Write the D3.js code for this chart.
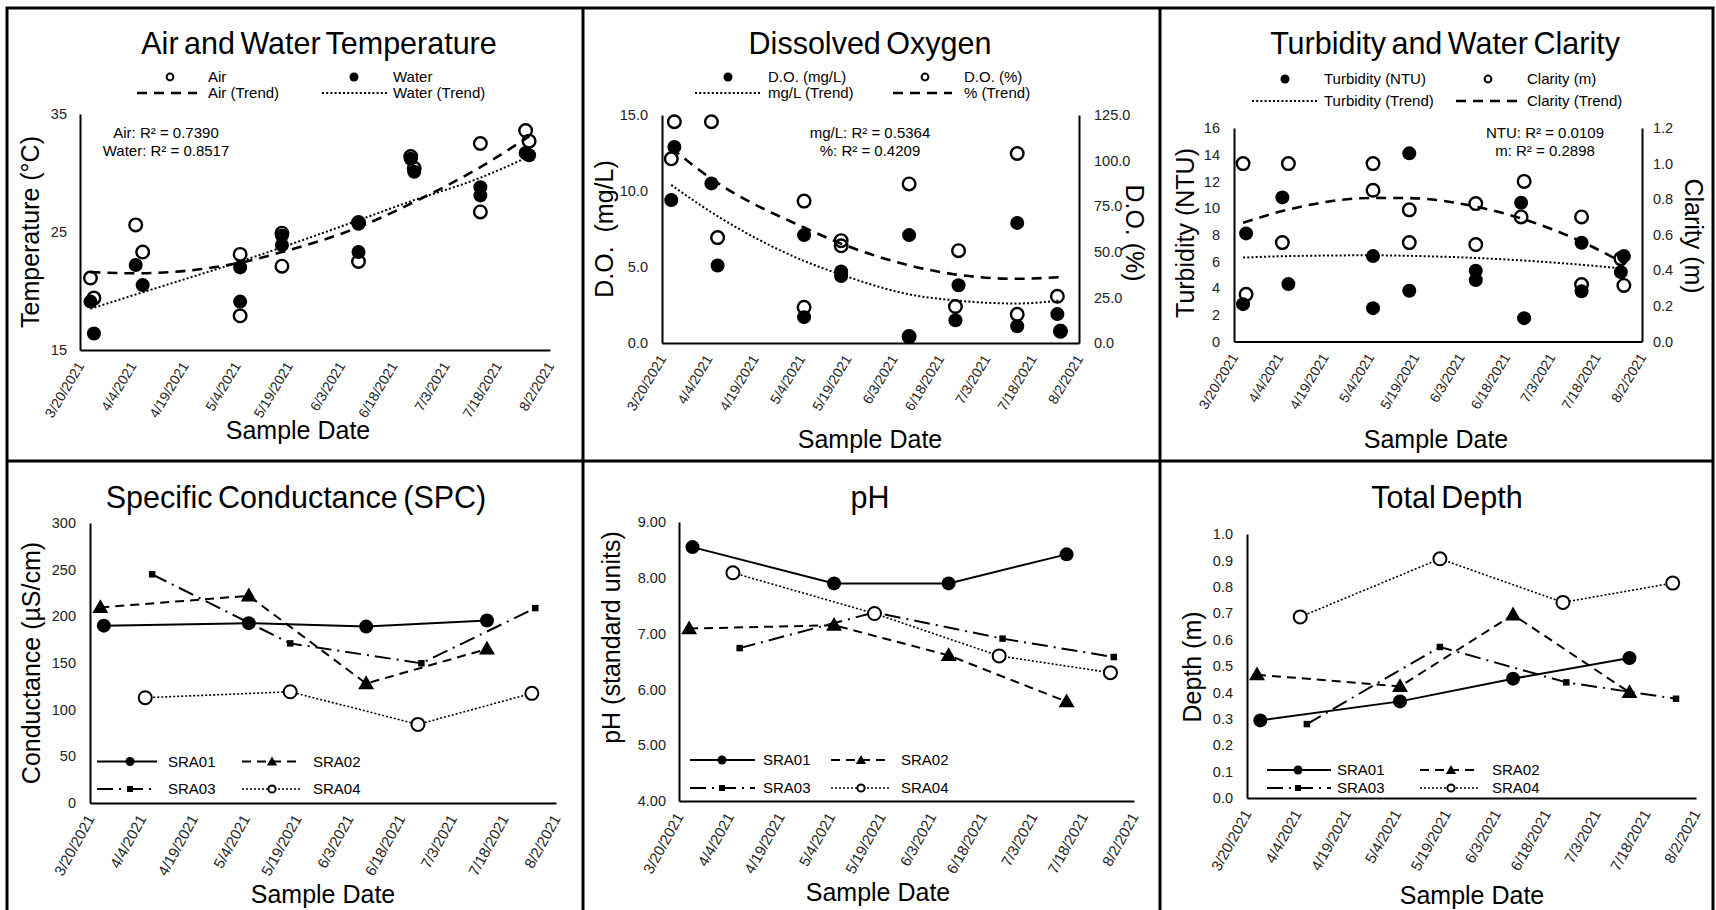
<!DOCTYPE html>
<html>
<head>
<meta charset="utf-8">
<script src="https://cdn.jsdelivr.net/npm/d3@7"></script>
<style>
  body { margin: 0; background: #fff; }
</style>
</head>
<body>
<svg id="chart" width="1716" height="910"></svg>
<script>
// x axis ticks (every 15 days)
const tickDates = ["2021-03-20", "2021-04-04", "2021-04-19", "2021-05-04", "2021-05-19",
  "2021-06-03", "2021-06-18", "2021-07-03", "2021-07-18", "2021-08-02"];

// top row: one value per site visit
const scatterDates = ["2021-03-23", "2021-03-24", "2021-04-05", "2021-04-07", "2021-05-05", "2021-05-05",
  "2021-05-17", "2021-05-17", "2021-06-08", "2021-06-08", "2021-06-23", "2021-06-24",
  "2021-07-13", "2021-07-13", "2021-07-26", "2021-07-27"];
const airTemp = [21.1, 19.4, 25.6, 23.3, 23.1, 17.9, 22.1, 24.9, 22.5, 25.8, 31.4, 30.4, 32.5, 26.7, 33.6, 32.7];
const waterTemp = [19.1, 16.4, 22.2, 20.5, 22.0, 19.1, 24.7, 23.9, 25.7, 23.3, 31.2, 30.1, 28.8, 28.1, 31.7, 31.5];
const doMgL = [9.4, 12.9, 10.5, 5.1, 7.1, 1.7, 4.7, 4.4, 7.1, 0.4, 1.5, 3.8, 7.9, 1.1, 1.9, 0.8];
const doPct = [101.0, 121.3, 121.3, 57.8, 77.8, 19.6, 56.1, 53.3, 87.2, 3.5, 20.0, 50.6, 103.9, 15.7, 25.6, 6.5];
const turbidity = [2.8, 8.1, 10.8, 4.3, 6.4, 2.5, 14.1, 3.8, 5.3, 4.6, 10.4, 1.75, 7.4, 3.76, 5.2, 6.4];
const clarity = [1.0, 0.265, 0.556, 1.0, 1.0, 0.85, 0.74, 0.556, 0.775, 0.545, 0.70, 0.90, 0.70, 0.32, 0.466, 0.315];

// trend lines
const trendDates = ["2021-03-23", "2021-04-05", "2021-05-05", "2021-05-17", "2021-06-08", "2021-06-23", "2021-07-13", "2021-07-27"];
const airTrend = [21.6, 21.5, 22.4, 23.3, 25.4, 27.4, 30.5, 33.1];
const waterTrend = [18.5, 19.7, 22.5, 23.7, 26.0, 27.6, 29.6, 31.4];
const doMgLTrend = [10.4, 8.6, 5.4, 4.5, 3.2, 2.8, 2.6, 2.8];
const doPctTrend = [107.0, 90.0, 63.3, 54.5, 42.6, 37.6, 35.2, 36.1];
const turbTrend = [6.29, 6.39, 6.46, 6.42, 6.26, 6.08, 5.75, 5.46];
const clarityTrend = [0.667, 0.733, 0.807, 0.806, 0.758, 0.692, 0.561, 0.44];

// bottom row: per site
const siteNames = ["SRA01", "SRA02", "SRA03", "SRA04"];
const datesSRA01 = ["2021-03-24", "2021-05-05", "2021-06-08", "2021-07-13"];
const datesSRA02 = ["2021-03-23", "2021-05-05", "2021-06-08", "2021-07-13"];
const datesSRA03 = ["2021-04-07", "2021-05-17", "2021-06-24", "2021-07-27"];
const datesSRA04 = ["2021-04-05", "2021-05-17", "2021-06-23", "2021-07-26"];

const spcSRA01 = [190, 192.7, 189, 195.5];
const spcSRA02 = [209.5, 222, 128, 165];
const spcSRA03 = [245, 171, 149.7, 208.8];
const spcSRA04 = [112.8, 119.2, 84.2, 117.5];

const phSRA01 = [8.55, 7.90, 7.90, 8.42];
const phSRA02 = [7.09, 7.15, 6.61, 5.78];
const phSRA03 = [6.74, 7.38, 6.91, 6.58];
const phSRA04 = [8.09, 7.36, 6.60, 6.30];

const depthSRA01 = [0.294, 0.366, 0.452, 0.530];
const depthSRA02 = [0.467, 0.423, 0.694, 0.400];
const depthSRA03 = [0.280, 0.572, 0.438, 0.376];
const depthSRA04 = [0.686, 0.906, 0.741, 0.814];

const FONT = "'Liberation Sans', Arial, Helvetica, sans-serif";
const svg = d3.select("#chart");
const parse = d3.utcParse("%Y-%m-%d");
const fmtTick = d3.utcFormat("%-m/%-d/%Y");

// frame and panel dividers
svg.append("rect").attr("x", 7).attr("y", 8).attr("width", 1706).attr("height", 960)
  .attr("fill", "none").attr("stroke", "#000").attr("stroke-width", 3);
[583, 1160].forEach(x => svg.append("line").attr("x1", x).attr("x2", x).attr("y1", 8).attr("y2", 910)
  .attr("stroke", "#000").attr("stroke-width", 3));
svg.append("line").attr("x1", 7).attr("x2", 1713).attr("y1", 461).attr("y2", 461)
  .attr("stroke", "#000").attr("stroke-width", 3);

function text(x, y, str, size, anchor = "middle", rotate = 0) {
  return svg.append("text")
    .attr("transform", `translate(${x},${y}) rotate(${rotate})`)
    .attr("text-anchor", anchor)
    .attr("font-family", FONT)
    .attr("font-size", size)
    .attr("fill", "#000")
    .text(str);
}

function title(x, y, str) {
  text(x, y, str, 30.5).attr("word-spacing", -3);
}

function dateScale(x0, x1) {
  return d3.scaleUtc()
    .domain([parse(tickDates[0]), parse(tickDates[tickDates.length - 1])])
    .range([x0, x1]);
}

function drawXAxis(x, yPos, size, angle) {
  const g = svg.append("g").attr("transform", `translate(0,${yPos})`)
    .call(d3.axisBottom(x).tickValues(tickDates.map(parse)).tickFormat(fmtTick).tickSize(0).tickSizeOuter(0));
  g.select(".domain").attr("stroke", "#000").attr("stroke-width", 2);
  g.selectAll(".tick text")
    .attr("font-size", size).attr("font-family", FONT).attr("fill", "#222")
    .attr("text-anchor", "end").attr("x", 0).attr("y", 0).attr("dy", "0.35em")
    .attr("transform", `translate(0,13) rotate(${angle})`);
}

function drawYAxis(y, xPos, ticks, fmt, pad, right = false) {
  const axis = (right ? d3.axisRight(y) : d3.axisLeft(y))
    .tickValues(ticks).tickFormat(fmt).tickSize(0).tickSizeOuter(0).tickPadding(pad);
  const g = svg.append("g").attr("transform", `translate(${xPos},0)`).call(axis);
  g.select(".domain").attr("stroke", "#000").attr("stroke-width", 2);
  g.selectAll(".tick text").attr("font-size", 14.5).attr("font-family", FONT).attr("fill", "#222");
}

function scatter(x, y, vals, filled) {
  const pts = scatterDates.map((d, i) => ({ date: parse(d), v: vals[i] }));
  svg.append("g").selectAll("circle").data(pts).join("circle")
    .attr("cx", d => x(d.date)).attr("cy", d => y(d.v))
    .attr("r", filled ? 7 : 6.3)
    .attr("fill", filled ? "#000" : "none")
    .attr("stroke", "#000").attr("stroke-width", filled ? 0 : 2.4);
}

function trend(x, y, vals, dash, width) {
  const pts = trendDates.map((d, i) => ({ date: parse(d), v: vals[i] }));
  svg.append("path").datum(pts)
    .attr("d", d3.line().x(d => x(d.date)).y(d => y(d.v)).curve(d3.curveMonotoneX))
    .attr("fill", "none").attr("stroke", "#000")
    .attr("stroke-width", width).attr("stroke-dasharray", dash);
}

const dashedTrend = ["10,7", 2.6];
const dottedTrend = ["2,2.2", 2];

function legendDot(cx, cy, filled) {
  svg.append("circle").attr("cx", cx).attr("cy", cy).attr("r", filled ? 4.5 : 3.4)
    .attr("fill", filled ? "#000" : "none").attr("stroke", "#000").attr("stroke-width", filled ? 0 : 2);
}
function legendLine(x0, x1, cy, style) {
  svg.append("line").attr("x1", x0).attr("x2", x1).attr("y1", cy).attr("y2", cy)
    .attr("stroke", "#000").attr("stroke-width", style[1]).attr("stroke-dasharray", style[0]);
}
function legendText(x, cy, str) {
  text(x, cy, str, 15, "start").attr("dy", "0.35em");
}

// ---------- Panel 1: Air and Water Temperature ----------
{
  const x = dateScale(80, 550);
  const y = d3.scaleLinear().domain([15, 35]).range([350, 114]);
  title(319, 54, "Air and Water Temperature");
  legendDot(170, 77, false); legendText(208, 77, "Air");
  legendDot(354, 77, true); legendText(393, 77, "Water");
  legendLine(137, 197, 93, dashedTrend); legendText(208, 93, "Air (Trend)");
  legendLine(322, 387, 93, dottedTrend); legendText(393, 93, "Water (Trend)");
  scatter(x, y, airTemp, false);
  scatter(x, y, waterTemp, true);
  trend(x, y, airTrend, ...dashedTrend);
  trend(x, y, waterTrend, ...dottedTrend);
  drawYAxis(y, 80, [15, 25, 35], d3.format("d"), 13);
  drawXAxis(x, 350, 14, -59);
  text(166, 133, "Air: R\u00B2 = 0.7390", 15).attr("dy", "0.35em");
  text(166, 151, "Water: R\u00B2 = 0.8517", 15).attr("dy", "0.35em");
  text(30, 232, "Temperature (\u00B0C)", 25, "middle", -90).attr("dy", "0.35em");
  text(298, 439, "Sample Date", 25);
}

// ---------- Panel 2: Dissolved Oxygen ----------
{
  const x = dateScale(662, 1079);
  const yL = d3.scaleLinear().domain([0, 15]).range([343, 115]);
  const yR = d3.scaleLinear().domain([0, 125]).range([343, 115]);
  title(870, 54, "Dissolved Oxygen");
  legendDot(728, 77, true); legendText(768, 77, "D.O. (mg/L)");
  legendDot(925, 77, false); legendText(964, 77, "D.O. (%)");
  legendLine(695, 760, 93, dottedTrend); legendText(768, 93, "mg/L (Trend)");
  legendLine(893, 952, 93, dashedTrend); legendText(964, 93, "% (Trend)");
  scatter(x, yL, doMgL, true);
  scatter(x, yR, doPct, false);
  trend(x, yL, doMgLTrend, ...dottedTrend);
  trend(x, yR, doPctTrend, ...dashedTrend);
  drawYAxis(yL, 662, [0, 5, 10, 15], d3.format(".1f"), 14);
  drawYAxis(yR, 1079, [0, 25, 50, 75, 100, 125], d3.format(".1f"), 15, true);
  drawXAxis(x, 343, 14, -59);
  text(870, 133, "mg/L: R\u00B2 = 0.5364", 15).attr("dy", "0.35em");
  text(870, 151, "%: R\u00B2 = 0.4209", 15).attr("dy", "0.35em");
  text(604, 229, "D.O.\u00A0 (mg/L)", 25, "middle", -90).attr("dy", "0.35em");
  text(1135, 233, "D.O. (%)", 25, "middle", 90).attr("dy", "0.35em");
  text(870, 448, "Sample Date", 25);
}

// ---------- Panel 3: Turbidity and Water Clarity ----------
{
  const x = dateScale(1234, 1642);
  const yL = d3.scaleLinear().domain([0, 16]).range([341.5, 128]);
  const yR = d3.scaleLinear().domain([0, 1.2]).range([341.5, 128]);
  title(1445, 54, "Turbidity and Water Clarity");
  legendDot(1285, 79, true); legendText(1324, 79, "Turbidity (NTU)");
  legendDot(1488, 79, false); legendText(1527, 79, "Clarity (m)");
  legendLine(1252, 1318, 101, dottedTrend); legendText(1324, 101, "Turbidity (Trend)");
  legendLine(1456, 1517, 101, dashedTrend); legendText(1527, 101, "Clarity (Trend)");
  scatter(x, yL, turbidity, true);
  scatter(x, yR, clarity, false);
  trend(x, yL, turbTrend, ...dottedTrend);
  trend(x, yR, clarityTrend, ...dashedTrend);
  drawYAxis(yL, 1234, d3.range(0, 17, 2), d3.format("d"), 14);
  drawYAxis(yR, 1642, d3.range(0, 7).map(i => i * 0.2), d3.format(".1f"), 11, true);
  drawXAxis(x, 341.5, 14, -59);
  text(1545, 133, "NTU: R\u00B2 = 0.0109", 15).attr("dy", "0.35em");
  text(1545, 151, "m: R\u00B2 = 0.2898", 15).attr("dy", "0.35em");
  text(1185, 233, "Turbidity (NTU)", 25, "middle", -90).attr("dy", "0.35em");
  text(1694, 236, "Clarity (m)", 25, "middle", 90).attr("dy", "0.35em");
  text(1436, 448, "Sample Date", 25);
}

// ---------- bottom row: one line per site ----------
const siteDates = [datesSRA01, datesSRA02, datesSRA03, datesSRA04];
const siteStyles = [
  { dash: null, width: 2, marker: "circle" },
  { dash: "9,6", width: 2, marker: "triangle" },
  { dash: "16,6,2,6", width: 2, marker: "square" },
  { dash: "2,2", width: 1.6, marker: "open" }
];

function siteMarker(g, type, cx, cy, big) {
  if (type === "circle") {
    g.append("circle").attr("cx", cx).attr("cy", cy).attr("r", big ? 7 : 4.5).attr("fill", "#000");
  } else if (type === "open") {
    g.append("circle").attr("cx", cx).attr("cy", cy).attr("r", big ? 6.5 : 3.6)
      .attr("fill", "#fff").attr("stroke", "#000").attr("stroke-width", 2);
  } else {
    const sym = type === "triangle" ? d3.symbolTriangle : d3.symbolSquare;
    const size = type === "triangle" ? (big ? 110 : 45) : (big ? 42 : 36);
    g.append("path").attr("d", d3.symbol().type(sym).size(size)())
      .attr("transform", `translate(${cx},${cy + (type === "triangle" ? 1 : 0)})`).attr("fill", "#000");
  }
}

function sitePanel(cfg) {
  const x = dateScale(cfg.x0, cfg.x1);
  const y = d3.scaleLinear().domain(cfg.domain).range([cfg.yBot, cfg.yTop]);
  title(cfg.titleX, 508, cfg.title);
  cfg.values.forEach((vals, i) => {
    const st = siteStyles[i];
    const pts = siteDates[i].map((d, j) => ({ date: parse(d), v: vals[j] }));
    const g = svg.append("g");
    g.append("path").datum(pts)
      .attr("d", d3.line().x(d => x(d.date)).y(d => y(d.v)))
      .attr("fill", "none").attr("stroke", "#000")
      .attr("stroke-width", st.width).attr("stroke-dasharray", st.dash);
    pts.forEach(p => siteMarker(g, st.marker, x(p.date), y(p.v), true));
  });
  drawYAxis(y, cfg.x0, cfg.ticks, cfg.fmt, cfg.pad);
  drawXAxis(x, cfg.yBot, 15, -61);
  // legend, two columns by two rows
  siteNames.forEach((name, i) => {
    const col = cfg.legCols[i % 2], cy = cfg.legRows[Math.floor(i / 2)];
    const st = siteStyles[i];
    const g = svg.append("g");
    g.append("line").attr("x1", col[0]).attr("x2", col[1]).attr("y1", cy).attr("y2", cy)
      .attr("stroke", "#000").attr("stroke-width", st.width).attr("stroke-dasharray", st.dash);
    siteMarker(g, st.marker, col[2], cy, false);
    legendText(col[3], cy, name);
  });
  text(cfg.yTitle[0], cfg.yTitle[1], cfg.yLabel, 25, "middle", -90).attr("dy", "0.35em");
  text(cfg.xTitle[0], cfg.xTitle[1], "Sample Date", 25);
}

sitePanel({
  title: "Specific Conductance (SPC)", titleX: 296,
  x0: 90, x1: 556, yTop: 523, yBot: 803,
  domain: [0, 300], ticks: d3.range(0, 301, 50), fmt: d3.format("d"), pad: 14,
  values: [spcSRA01, spcSRA02, spcSRA03, spcSRA04],
  legCols: [[97, 157, 130, 168], [242, 301, 272, 313]], legRows: [761.5, 789],
  yLabel: "Conductance (\u00B5S/cm)", yTitle: [31.5, 663], xTitle: [323, 903]
});

sitePanel({
  title: "pH", titleX: 870,
  x0: 679, x1: 1134, yTop: 522, yBot: 801,
  domain: [4, 9], ticks: d3.range(4, 10), fmt: d3.format(".2f"), pad: 13,
  values: [phSRA01, phSRA02, phSRA03, phSRA04],
  legCols: [[690, 755, 722, 763], [831, 890, 861, 901]], legRows: [760, 788],
  yLabel: "pH (standard units)", yTitle: [611.5, 637.5], xTitle: [878, 901]
});

sitePanel({
  title: "Total Depth", titleX: 1447,
  x0: 1247, x1: 1696, yTop: 534, yBot: 798,
  domain: [0, 1], ticks: d3.range(0, 11).map(i => i / 10), fmt: d3.format(".1f"), pad: 14,
  values: [depthSRA01, depthSRA02, depthSRA03, depthSRA04],
  legCols: [[1267, 1331, 1298, 1337], [1420, 1479, 1451, 1492]], legRows: [770, 788],
  yLabel: "Depth (m)", yTitle: [1192, 667], xTitle: [1472, 904]
});
</script>
</body>
</html>
